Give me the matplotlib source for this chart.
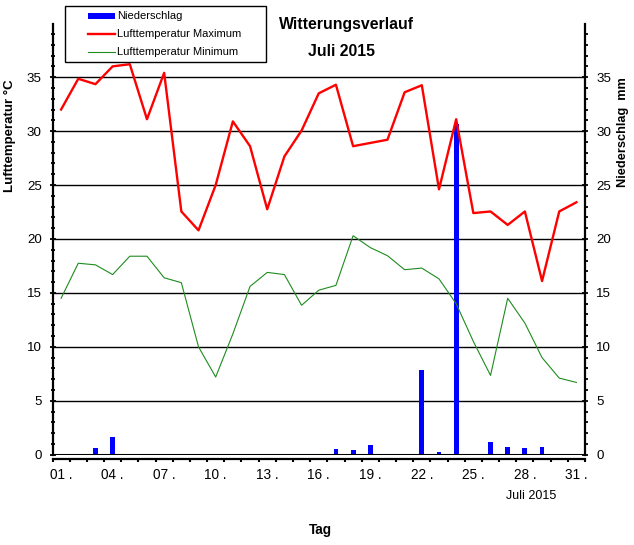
import matplotlib
matplotlib.use("Agg")
import matplotlib.pyplot as plt
from matplotlib.patches import Rectangle
from matplotlib.lines import Line2D
import numpy as np

plt.rcParams['font.family'] = ['Liberation Sans', 'DejaVu Sans']

# ---- data ----
days = list(range(1, 32))
temp_max = [32.0, 34.85, 34.35, 36.0, 36.2, 31.1, 35.4, 22.55, 20.8, 25.0,
            30.9, 28.6, 22.75, 27.65, 30.05, 33.5, 34.3, 28.6, 28.9, 29.2,
            33.6, 34.25, 24.6, 31.1, 22.4, 22.55, 21.3, 22.55, 16.1, 22.55, 23.4]
temp_min = [14.5, 17.75, 17.6, 16.7, 18.4, 18.4, 16.4, 15.95, 10.0, 7.2,
            11.2, 15.6, 16.9, 16.7, 13.85, 15.25, 15.7, 20.3, 19.2, 18.45,
            17.15, 17.3, 16.3, 14.0, 10.5, 7.35, 14.5, 12.2, 9.0, 7.1, 6.7]
precip = [0, 0, 0.62, 1.64, 0, 0, 0, 0, 0, 0,
          0, 0, 0, 0, 0, 0, 0.53, 0.43, 0.9, 0,
          0, 7.85, 0.25, 30.7, 0, 1.17, 0.7, 0.62, 0.7, 0, 0]
x_labels = ["01 .", "04 .", "07 .", "10 .", "13 .", "16 .", "19 .", "22 .", "25 .", "28 .", "31 ."]
x_label_days = [1, 4, 7, 10, 13, 16, 19, 22, 25, 28, 31]
y_ticks = [0, 5, 10, 15, 20, 25, 30, 35]

W, H = 634, 545
fig = plt.figure(figsize=(W / 100, H / 100), dpi=100)
fig.patch.set_facecolor('white')

def fx(px):
    return px / W

def fy(py):
    return 1 - py / H

left, right, bottom, top = 52.5, 585, 454.7, 24.3
ax = fig.add_axes([fx(left), fy(bottom), fx(right) - fx(left), fy(top) - fy(bottom)])
ax2 = ax.twinx()
ax.set_zorder(ax2.get_zorder() + 1)
ax.patch.set_visible(False)

for a in (ax, ax2):
    a.set_xlim(0.5, 31.5)
    a.set_ylim(0, 39.9)

# precipitation bars (right axis)
ax2.bar(days, precip, width=0.28, color='#0000FF', zorder=3)
ax2.set_yticks(y_ticks)
ax2.set_yticks([v for v in range(1, 40) if v % 5], minor=True)
for v in y_ticks[1:]:
    ax2.axhline(v, color='black', lw=1.0, zorder=1)
ax2.axhline(0, color='black', lw=2.2, zorder=4)

# temperature lines (left axis)
ax.plot(days, temp_max, color='#FF0000', lw=1.7, zorder=5)
ax.plot(days, temp_min, color='#1E8C1E', lw=0.8, zorder=5)
ax.set_yticks(y_ticks)
ax.set_yticks([v for v in range(1, 40) if v % 5], minor=True)

# spines
for a in (ax, ax2):
    a.spines['top'].set_visible(False)
ax.spines['right'].set_visible(False)
ax2.spines['left'].set_visible(False)
ax2.spines['bottom'].set_visible(False)
ax.spines['left'].set_linewidth(1.6)
ax2.spines['right'].set_linewidth(1.6)
ax.spines['bottom'].set_linewidth(1.6)
ax.spines['bottom'].set_position(('outward', 3.1))

# x ticks: marks at day boundaries, labels centered on days
ax.set_xticks([d - 0.5 for d in range(1, 33)])
ax.set_xticklabels([])
ax.set_xticks(x_label_days, minor=True)
ax.set_xticklabels(x_labels, minor=True)
ax.tick_params(axis='x', which='major', direction='out', length=2.3, width=1.5)
ax.tick_params(axis='x', which='minor', length=0, pad=6.3, labelsize=9.8)

ax.tick_params(axis='y', which='major', direction='inout', length=5, width=1.3,
               pad=5.2, labelsize=9.6)
ax.tick_params(axis='y', which='minor', direction='inout', length=3, width=1.3)
ax2.tick_params(axis='y', which='major', direction='inout', length=5, width=1.3,
                pad=5.6, labelsize=9.6)
ax2.tick_params(axis='y', which='minor', direction='out', length=2.3, width=1.3)
ax2.tick_params(axis='x', which='both', bottom=False, labelbottom=False)

# labels & titles
fig.text(fx(10), fy(136), "Lufttemperatur °C", rotation=90, fontsize=9.5,
         fontweight='bold', ha='center', va='center')
fig.text(fx(623), fy(132), "Niederschlag  mm", rotation=90, fontsize=9.2,
         fontweight='bold', ha='center', va='center')
fig.text(fx(346), fy(25), "Witterungsverlauf", fontsize=11.4, fontweight='bold',
         ha='center', va='center')
fig.text(fx(342), fy(52), "Juli 2015", fontsize=11.4, fontweight='bold',
         ha='center', va='center')
fig.text(fx(531), fy(496), "Juli 2015", fontsize=9.0, ha='center', va='center')
fig.text(fx(320), fy(530), "Tag", fontsize=9.8, fontweight='bold',
         ha='center', va='center')

# legend box (manual)
fig.patches.append(Rectangle((fx(65), fy(62)), fx(266) - fx(65), fy(6) - fy(62),
                             transform=fig.transFigure, facecolor='white',
                             edgecolor='black', lw=1.0, zorder=10))
fig.patches.append(Rectangle((fx(88), fy(18.5)), fx(115) - fx(88), fy(12.5) - fy(18.5),
                             transform=fig.transFigure, facecolor='#0000FF',
                             edgecolor='none', zorder=11))
fig.lines.append(Line2D([fx(88), fx(115)], [fy(34), fy(34)], transform=fig.transFigure,
                        color='#FF0000', lw=1.7, zorder=11))
fig.lines.append(Line2D([fx(88), fx(115)], [fy(52), fy(52)], transform=fig.transFigure,
                        color='#1E8C1E', lw=0.8, zorder=11))
for ty, txt in [(16, "Niederschlag"), (34, "Lufttemperatur Maximum"),
                (52, "Lufttemperatur Minimum")]:
    fig.text(fx(117), fy(ty), txt, fontsize=8, ha='left', va='center', zorder=12)

fig.savefig("out.png", dpi=100)
